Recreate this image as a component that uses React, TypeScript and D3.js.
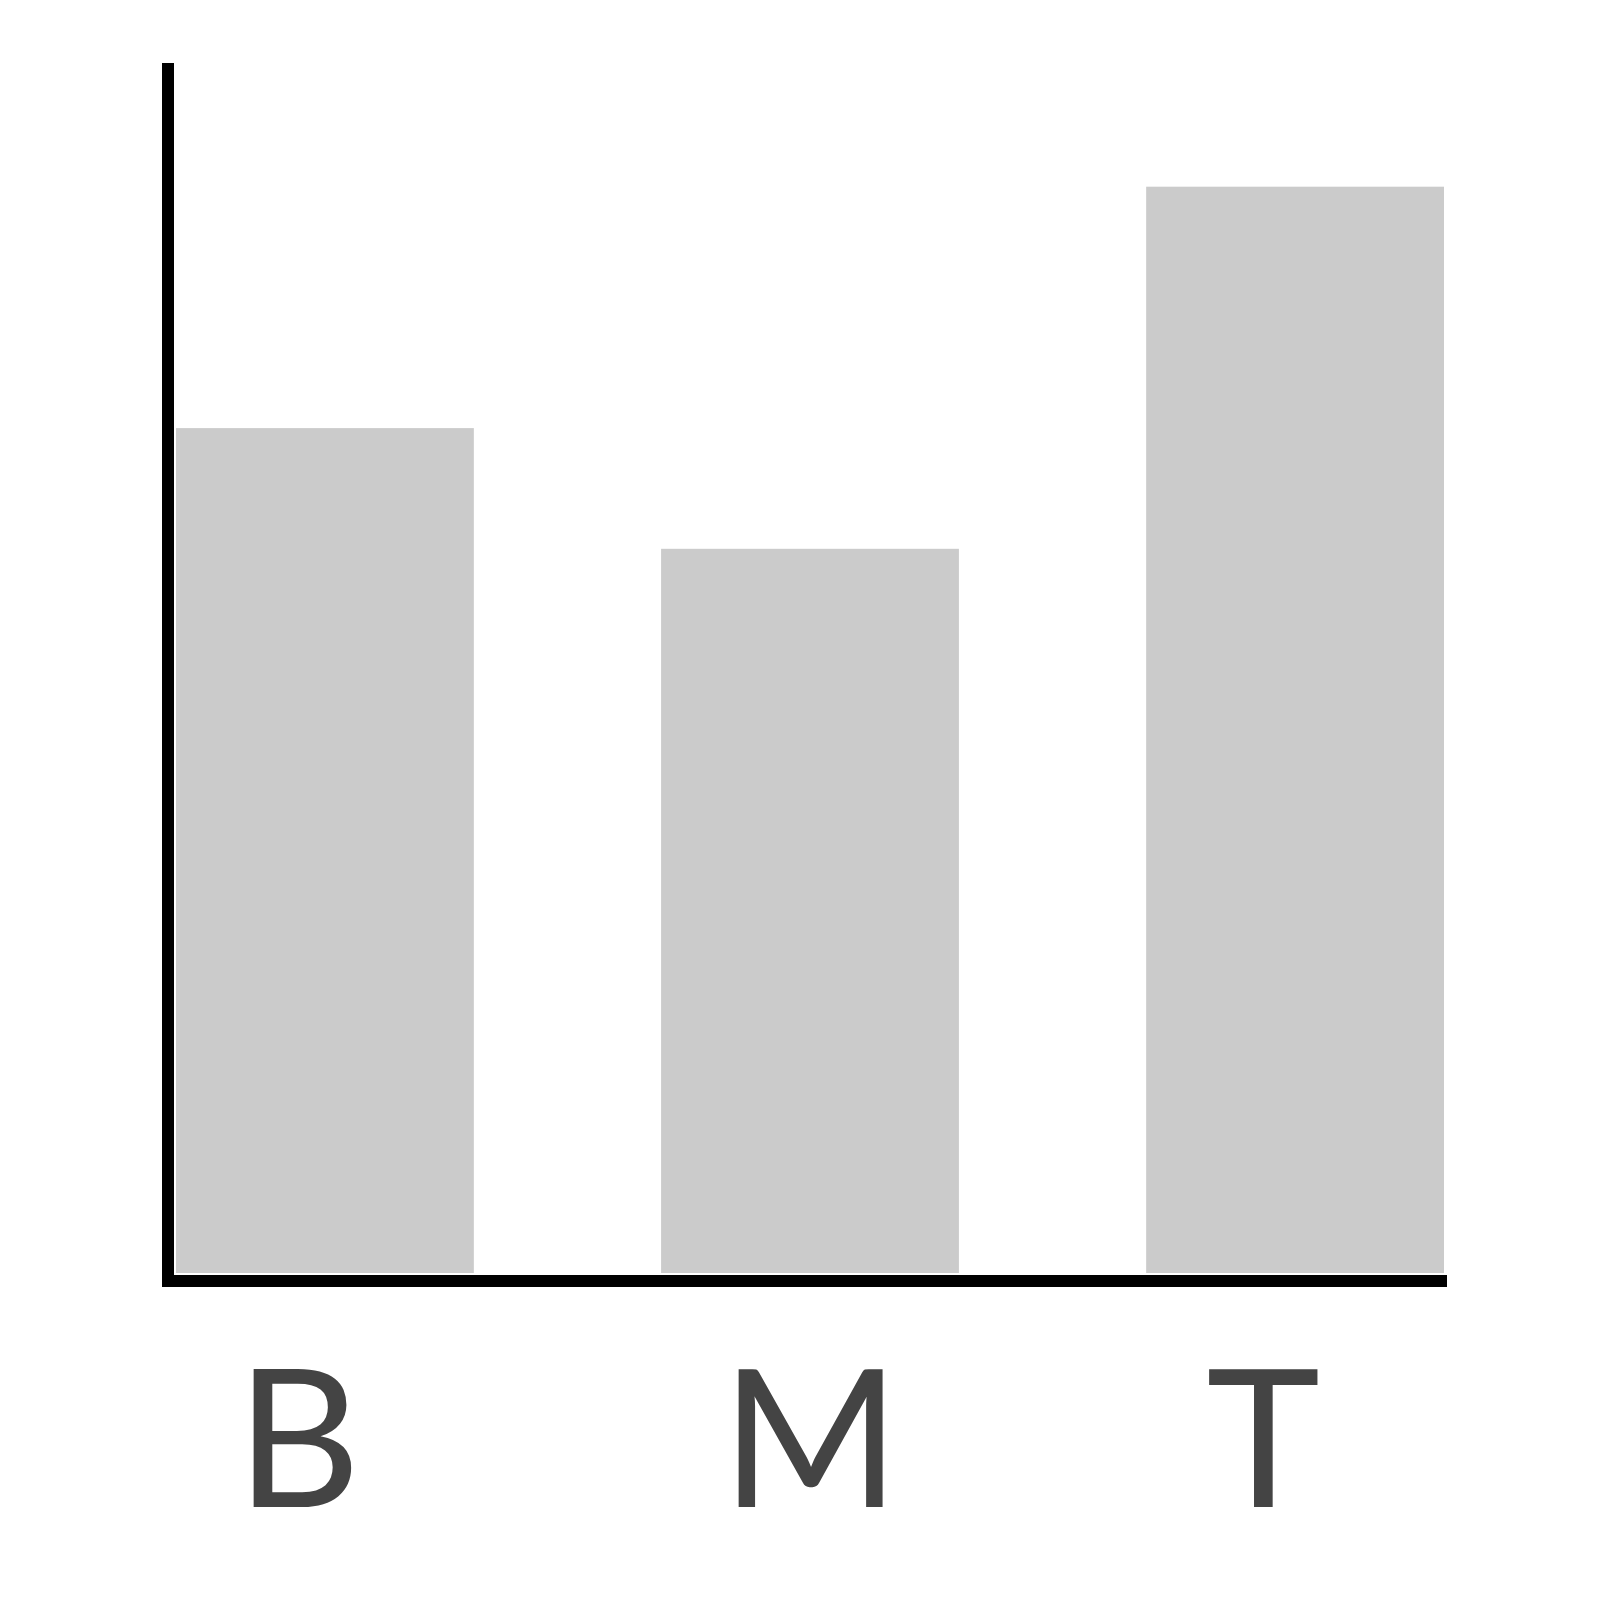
import React from "react";
import * as d3 from "d3";

const categories = ["B", "M", "T"];
const values = [70, 60, 90];
const yDomain = [0, 100];

const W = 1600;
const H = 1600;
const plot = { left: 176, right: 1444, top: 66, bottom: 1273 };

export default function App() {
  const x = d3
    .scaleBand<string>()
    .domain(categories)
    .range([plot.left, plot.right])
    .paddingInner(0.386)
    .paddingOuter(0);
  const y = d3.scaleLinear().domain(yDomain).range([plot.bottom, plot.top]);

  return (
    <svg
      width={W}
      height={H}
      style={{ position: "absolute", left: 0, top: 0, background: "#fff" }}
    >
      {categories.map((c, i) => (
        <rect
          key={c}
          x={x(c)}
          y={y(values[i])}
          width={x.bandwidth()}
          height={y(0) - y(values[i])}
          fill="#cbcbcb"
        />
      ))}
      <line x1={168} y1={63} x2={168} y2={1287} stroke="#000" strokeWidth={12} />
      <line x1={162} y1={1281} x2={1447} y2={1281} stroke="#000" strokeWidth={12} />
      {categories.map((c) => (
        <text
          key={c}
          x={(x(c) as number) + 60}
          y={1507}
          fontFamily="Lato"
          fontSize={193}
          fill="#444"
          textAnchor="start"
        >
          {c}
        </text>
      ))}
    </svg>
  );
}
